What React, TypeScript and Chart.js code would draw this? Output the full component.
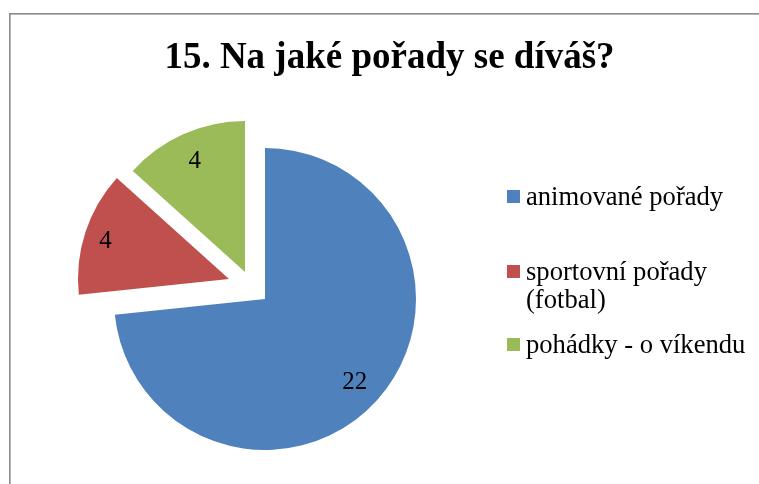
import React, { useEffect, useRef } from "react";
import { Chart, registerables } from "chart.js";

Chart.register(...registerables);

const TITLE = "15. Na jaké pořady se díváš?";
const categories = ["animované pořady", "sportovní pořady (fotbal)", "pohádky - o víkendu"];
const legendLines = [["animované pořady"], ["sportovní pořady", "(fotbal)"], ["pohádky - o víkendu"]];
const values = [22, 4, 4];
const colors = ["#4F81BD", "#C0504D", "#9BBB59"];

const W = 759;
const H = 484;
const RADIUS = 151;
// explosion shift of each slice (px) and label distance (fraction of radius)
const EXPLODE = [
  [0, 0],
  [-36, -20],
  [-20, -27],
];
const LABEL_FRAC = [0.8, 0.86, 0.82];
const SERIF = '"Liberation Serif", "Times New Roman", serif';

const decor = {
  id: "decor",
  beforeDraw(chart: any) {
    const ctx = chart.ctx;
    ctx.save();
    ctx.fillStyle = "#ffffff";
    ctx.fillRect(0, 0, W, H);
    ctx.fillStyle = "#8a8a8a";
    ctx.fillRect(9, 13, W, 1.6);
    ctx.fillRect(9, 13, 1.6, H);
    ctx.restore();
  },
  beforeDatasetsDraw(chart: any) {
    const meta = chart.getDatasetMeta(0);
    meta.data.forEach((arc: any, i: number) => {
      if (arc.$bx === undefined) {
        arc.$bx = arc.x;
        arc.$by = arc.y;
      }
      arc.x = arc.$bx + EXPLODE[i][0];
      arc.y = arc.$by + EXPLODE[i][1];
    });
  },
  afterDraw(chart: any) {
    const ctx = chart.ctx;
    ctx.save();
    // title
    ctx.fillStyle = "#000";
    ctx.font = `bold 37px ${SERIF}`;
    ctx.textAlign = "center";
    ctx.textBaseline = "alphabetic";
    ctx.fillText(TITLE, 389.5, 68);

    // data labels
    const meta = chart.getDatasetMeta(0);
    ctx.font = `25px ${SERIF}`;
    meta.data.forEach((arc: any, i: number) => {
      const mid = (arc.startAngle + arc.endAngle) / 2;
      const d = LABEL_FRAC[i] * arc.outerRadius;
      const x = arc.x + Math.cos(mid) * d;
      const y = arc.y + Math.sin(mid) * d;
      ctx.fillText(String(values[i]), x, y + 9.5);
    });

    // legend
    ctx.textAlign = "left";
    ctx.font = `26.6px ${SERIF}`;
    const baselines = [205, 280, 353];
    legendLines.forEach((lines, i) => {
      const b = baselines[i];
      ctx.fillStyle = colors[i];
      ctx.fillRect(507, b - 15, 13, 13);
      ctx.fillStyle = "#000";
      lines.forEach((ln, j) => {
        ctx.fillText(ln, 526, b + j * 28);
      });
    });
    ctx.restore();
  },
};

export default function App() {
  const ref = useRef<HTMLCanvasElement | null>(null);
  useEffect(() => {
    if (!ref.current) return;
    const chart = new Chart(ref.current, {
      type: "pie",
      data: {
        labels: categories,
        datasets: [
          {
            data: values,
            backgroundColor: colors,
            borderWidth: 0,
            radius: RADIUS,
            clip: false,
          } as any,
        ],
      },
      options: {
        responsive: false,
        animation: false,
        events: [],
        layout: { padding: { left: 0, right: W - 530, top: 114, bottom: 0 } },
        plugins: {
          legend: { display: false },
          title: { display: false },
          tooltip: { enabled: false },
        },
      },
      plugins: [decor],
    });
    return () => chart.destroy();
  }, []);
  return (
    <div style={{ position: "absolute", left: 0, top: 0, width: W, height: H, background: "#fff" }}>
      <canvas ref={ref} width={W} height={H} style={{ display: "block", width: W, height: H }} />
    </div>
  );
}
